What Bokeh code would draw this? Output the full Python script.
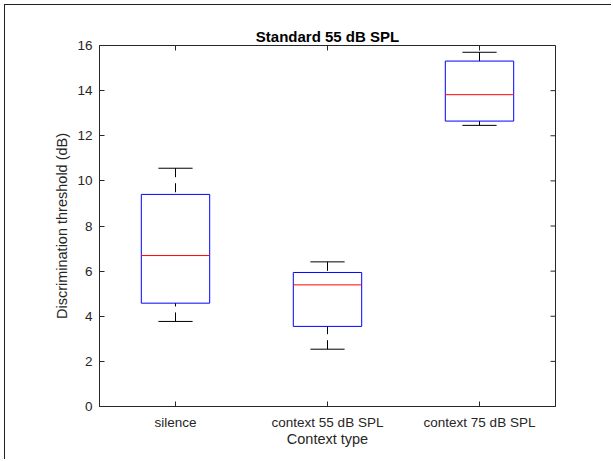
import math
from bokeh.plotting import figure
from bokeh.models import Range1d, FixedTicker, ColumnDataSource
from bokeh.embed import file_html
from bokeh.resources import INLINE

# ---- data ----
categories = ["silence", "context 55 dB SPL", "context 75 dB SPL"]
q1 = [4.58, 3.55, 12.65]
median = [6.69, 5.39, 13.82]
q3 = [9.40, 5.94, 15.31]
whisker_lo = [3.77, 2.54, 12.46]
whisker_hi = [10.56, 6.41, 15.70]
y_ticks = [0, 2, 4, 6, 8, 10, 12, 14, 16]

title_text = "Standard 55 dB SPL"
x_label = "Context type"
y_label = "Discrimination threshold (dB)"

# ---- derived ----
pos = [i + 1 for i in range(len(categories))]
box_w = 0.45
cap_w = 0.225

src = ColumnDataSource(dict(
    pos=pos, q1=q1, med=median, q3=q3, lo=whisker_lo, hi=whisker_hi,
    bl=[x - box_w / 2 for x in pos], br=[x + box_w / 2 for x in pos],
    cl=[x - cap_w / 2 for x in pos], cr=[x + cap_w / 2 for x in pos],
))

FONT = "Liberation Sans"
TXT = "#262626"
AX = "#262626"

xr = Range1d(0.5, len(categories) + 0.5)
yr = Range1d(y_ticks[0], y_ticks[-1])

p = figure(width=607, height=455, x_range=xr, y_range=yr,
           output_backend="svg", toolbar_location=None,
           min_border_left=94, min_border_right=57, min_border_top=40, min_border_bottom=54,
           title=title_text)
p.styles = {"margin-left": "4px", "margin-top": "4px",
            "border-left": "1px solid #202020", "border-top": "1px solid #202020"}
p.background_fill_color = "white"
p.border_fill_color = "white"
p.xgrid.visible = False
p.ygrid.visible = False
p.outline_line_color = AX
p.outline_line_width = 1

p.title.align = "center"
p.title.text_font = FONT
p.title.text_font_size = "15px"
p.title.text_font_style = "bold"
p.title.text_color = "#000000"
p.title.standoff = 2

xt = FixedTicker(ticks=pos)
yt = FixedTicker(ticks=y_ticks)

xa = p.xaxis[0]
xa.ticker = xt
xa.major_label_overrides = {x: c for x, c in zip(pos, categories)}
ya = p.yaxis[0]
ya.ticker = yt

for ax in (xa, ya):
    ax.major_tick_in = 5
    ax.major_tick_out = 0
    ax.minor_tick_in = 0
    ax.minor_tick_out = 0
    ax.axis_line_color = AX
    ax.major_tick_line_color = AX
    ax.major_label_text_font = FONT
    ax.major_label_text_font_size = "13.5px"
    ax.major_label_text_color = TXT
    ax.axis_label_text_font = FONT
    ax.axis_label_text_font_size = "14.5px"
    ax.axis_label_text_font_style = "normal"
    ax.axis_label_text_color = TXT

xa.axis_label = x_label
ya.axis_label = y_label
xa.major_label_standoff = 8
xa.axis_label_standoff = -2
ya.major_label_standoff = 7
ya.axis_label_standoff = 4

# mirrored tick marks on top and right edges (half of each dash is clipped by the frame)
p.scatter(x=pos, y=[yr.end] * len(pos), marker="dash", size=10, angle=math.pi / 2,
          line_color=AX, line_width=1)
p.scatter(x=[xr.end] * len(y_ticks), y=y_ticks, marker="dash", size=10,
          line_color=AX, line_width=1)

# whiskers (dashed) from caps to box
p.segment(x0="pos", y0="hi", x1="pos", y1="q3", source=src, line_color="black",
          line_width=1, line_dash="9 6")
p.segment(x0="pos", y0="lo", x1="pos", y1="q1", source=src, line_color="black",
          line_width=1, line_dash="9 6")
# caps
p.segment(x0="cl", y0="hi", x1="cr", y1="hi", source=src, line_color="black", line_width=1)
p.segment(x0="cl", y0="lo", x1="cr", y1="lo", source=src, line_color="black", line_width=1)
# boxes
p.quad(left="bl", right="br", bottom="q1", top="q3", source=src, fill_color=None,
       line_color="#0000ff", line_width=1)
# medians
p.segment(x0="bl", y0="med", x1="br", y1="med", source=src, line_color="#ff0000", line_width=1)

open("out.html", "w").write(file_html(p, INLINE))
